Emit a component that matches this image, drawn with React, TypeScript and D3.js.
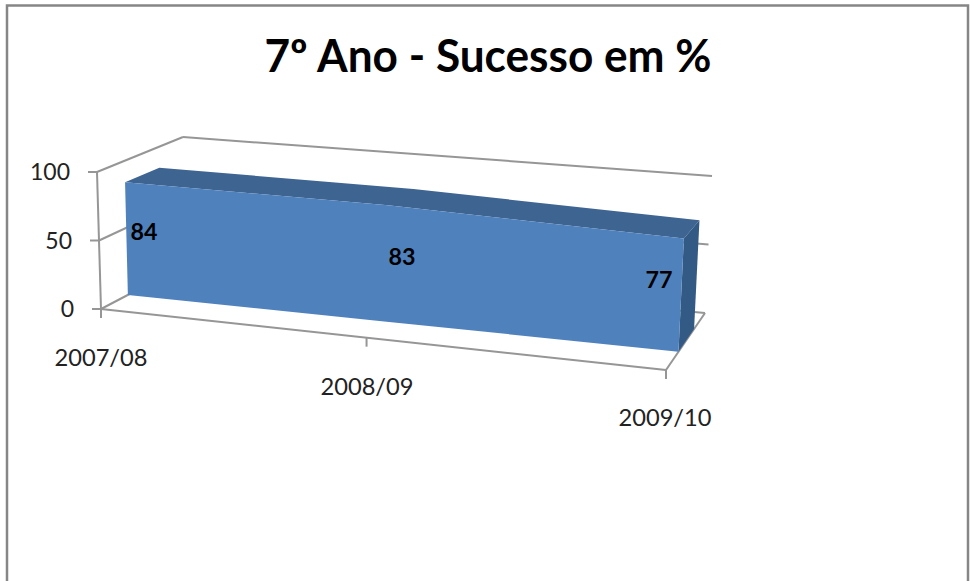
import React from "react";
import * as d3 from "d3";

const titleText = "7º Ano - Sucesso em %";
const categories = ["2007/08", "2008/09", "2009/10"];
const values = [84, 83, 77];
const yTicks = [0, 50, 100];

type Pt = [number, number];
// perspective box corners: [floor, ceiling]
const frontLeft: [Pt, Pt] = [[101, 309], [97, 172]];
const backLeft: [Pt, Pt] = [[185, 265], [183, 137]];
const frontRight: [Pt, Pt] = [[666, 370], [673, 218]];
const backRight: [Pt, Pt] = [[705, 313], [712, 176]];

const uScale = d3.scaleLinear().domain([0, 1, 2]).range([0, 0.47, 1]);
const vScale = d3.scaleLinear().domain([0, 100]).range([0, 1]);
const mix = (a: Pt, b: Pt, t: number): Pt => [a[0] + (b[0] - a[0]) * t, a[1] + (b[1] - a[1]) * t];

function project(cat: number, value: number, depth: number): Pt {
  const u = uScale(cat);
  const v = vScale(value);
  const left = mix(mix(frontLeft[0], backLeft[0], depth), mix(frontLeft[1], backLeft[1], depth), v);
  const right = mix(mix(frontRight[0], backRight[0], depth), mix(frontRight[1], backRight[1], depth), v);
  return mix(left, right, u);
}

const D0 = 0.32;
const D1 = 0.72;
const line = d3.line<Pt>().curve(d3.curveLinear);
const idx = categories.map((_, i) => i);
const lastI = categories.length - 1;

const GRID = "#969696";
const FONT = "Lato, 'Open Sans', sans-serif";

const topPts: Pt[] = idx.map((i) => project(i, values[i], D0));
const frontPath =
  line([...topPts, ...idx.slice().reverse().map((i) => project(i, 0, D0))]) + "Z";
const topPath =
  line([...topPts, ...idx.slice().reverse().map((i) => project(i, values[i], D1))]) + "Z";
const sidePath =
  line([
    project(lastI, values[lastI], D0),
    project(lastI, values[lastI], D1),
    project(lastI, 0, D1),
    project(lastI, 0, D0),
  ]) + "Z";

const catLabelPos: Pt[] = [[101, 366], [367, 395], [665, 426]];
const dataLabelPos: Pt[] = [[144, 240], [402, 265], [659, 288]];

export default function App() {
  const seg = (a: Pt, b: Pt, k: string) => (
    <line key={k} x1={a[0]} y1={a[1]} x2={b[0]} y2={b[1]} stroke={GRID} strokeWidth={2} />
  );
  return (
    <svg
      width={970}
      height={581}
      viewBox="0 0 970 581"
      style={{ position: "absolute", left: 0, top: 0, background: "#fff" }}
    >
      <path d="M7,581V5.5H968V581" fill="none" stroke="#868686" strokeWidth={2.5} />
      <text
        x={488}
        y={72}
        textAnchor="middle"
        fontFamily={FONT}
        fontWeight={700}
        fontSize={45}
        textLength={447}
        lengthAdjust="spacingAndGlyphs"
        fill="#000"
      >
        {titleText}
      </text>

      {/* walls and floor */}
      {yTicks.filter((t) => t > 0).map((t) => (
        <g key={t}>
          {seg(project(0, t, 0), project(0, t, 1), `l${t}`)}
          {seg(project(0, t, 1), project(lastI, t, 1), `b${t}`)}
        </g>
      ))}
      {seg(project(0, 0, 0), project(lastI, 0, 0), "front")}
      {seg(project(lastI, 0, 0), project(lastI, 0, 1), "right")}
      {seg(project(lastI, 0, 1), project(0, 0, 1), "backfloor")}
      {seg(project(0, 0, 0), project(0, 0, 1), "leftfloor")}
      {seg(project(0, 0, 0), project(0, 100, 0), "yaxis")}
      {yTicks.map((t) => {
        const p = project(0, t, 0);
        return seg(p, [p[0] - 9, p[1]], `yt${t}`);
      })}
      {idx.map((i) => {
        const p = project(i, 0, 0);
        return seg(p, [p[0], p[1] + 9], `xt${i}`);
      })}

      {/* 3D area */}
      <path d={topPath} fill="#3E6491" />
      <path d={sidePath} fill="#335A85" />
      <path d={frontPath} fill="#4F81BD" />

      {yTicks.map((t) => {
        const p = project(0, t, 0);
        return (
          <text
            key={t}
            x={p[0] - 27}
            y={p[1] + 8}
            textAnchor="end"
            fontFamily={FONT}
            fontSize={23}
            fill="#222"
          >
            {t}
          </text>
        );
      })}
      {categories.map((c, i) => (
        <text
          key={c}
          x={catLabelPos[i][0]}
          y={catLabelPos[i][1]}
          textAnchor="middle"
          fontFamily={FONT}
          fontSize={23}
          textLength={93}
          lengthAdjust="spacingAndGlyphs"
          fill="#222"
        >
          {c}
        </text>
      ))}
      {values.map((v, i) => (
        <text
          key={i}
          x={dataLabelPos[i][0]}
          y={dataLabelPos[i][1]}
          textAnchor="middle"
          fontFamily={FONT}
          fontWeight={700}
          fontSize={22}
          textLength={27}
          lengthAdjust="spacingAndGlyphs"
          fill="#000"
        >
          {v}
        </text>
      ))}
    </svg>
  );
}
